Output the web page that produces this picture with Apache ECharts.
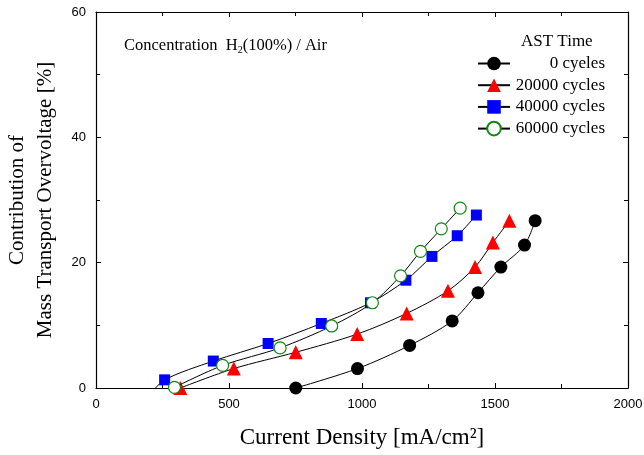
<!DOCTYPE html>
<html>
<head>
<meta charset="utf-8">
<script src="https://cdn.jsdelivr.net/npm/echarts@6/dist/echarts.min.js"></script>
<style>html,body{margin:0;padding:0;background:#fff}#c{width:644px;height:455px}</style>
</head>
<body>
<div id="c"></div>
<script>
// ---- data ----
const seriesNames = ['0 cyeles', '20000 cycles', '40000 cycles', '60000 cycles'];
const x0 = [751, 983, 1179, 1339, 1436, 1522, 1611, 1651];
const y0 = [0.0, 3.1, 6.8, 10.7, 15.2, 19.3, 22.8, 26.7];
const x20k = [317, 518, 751, 982, 1168, 1323, 1425, 1492, 1554];
const y20k = [0.0, 3.1, 5.7, 8.6, 11.9, 15.5, 19.3, 23.2, 26.7];
const x40k = [200, 258, 441, 647, 847, 1032, 1165, 1263, 1358, 1430];
const y40k = [-1.2, 1.3, 4.3, 7.1, 10.3, 13.6, 17.2, 21.0, 24.3, 27.6];
const x60k = [295, 476, 692, 886, 1039, 1145, 1220, 1298, 1369];
const y60k = [0.1, 3.6, 6.4, 9.9, 13.6, 17.9, 21.8, 25.4, 28.7];
const xTicks = [0, 500, 1000, 1500, 2000];
const yTicks = [0, 20, 40, 60];

const pairs = (xs, ys) => xs.map((x, i) => [x, ys[i]]);
const serif = '"Liberation Serif", "Times New Roman", serif';
const sans = '"Liberation Sans", Arial, sans-serif';

const styles = [
  {symbol: 'circle', symbolSize: 13, color: '#000', border: '#000', bw: 0},
  {symbol: 'triangle', symbolSize: 14, color: '#ff0000', border: '#ff0000', bw: 0},
  {symbol: 'rect', symbolSize: 11, color: '#0000ff', border: '#0000ff', bw: 0},
  {symbol: 'circle', symbolSize: 12, color: '#ffffff', border: '#118811', bw: 1.2}
];
const datasets = [pairs(x0, y0), pairs(x20k, y20k), pairs(x40k, y40k), pairs(x60k, y60k)];

const series = datasets.map((d, i) => ({
  name: seriesNames[i],
  type: 'line',
  data: d,
  smooth: 0.3,
  clip: true,
  symbol: styles[i].symbol,
  symbolSize: styles[i].symbolSize,
  showAllSymbol: true,
  lineStyle: {color: '#000', width: 1},
  itemStyle: {color: styles[i].color, borderColor: styles[i].border, borderWidth: styles[i].bw, opacity: 1},
  emphasis: {disabled: true},
  z: 2 + i
}));

const chart = echarts.init(document.getElementById('c'), null, {renderer: 'canvas'});
const axisCommon = {
  axisLine: {show: true, onZero: false, lineStyle: {color: '#000', width: 1.2}},
  axisTick: {show: true, inside: true, length: 5, lineStyle: {color: '#000', width: 1}},
  minorTick: {show: true, splitNumber: 2, length: 4, lineStyle: {color: '#000', width: 1}},
  splitLine: {show: false}
};
const plainNum = v => String(v);
chart.setOption({
  animation: false,
  backgroundColor: '#fff',
  title: [
    {
      text: 'Concentration  H{sub|2}(100%) / Air',
      left: 119, top: 31,
      textStyle: {
        fontFamily: serif, fontSize: 16.5, fontWeight: 'normal', color: '#000',
        rich: {sub: {fontFamily: serif, fontSize: 10, color: '#000', padding: [9, 0, 0, 0]}}
      }
    },
    {
      text: 'AST Time', left: 516, top: 28,
      textStyle: {fontFamily: serif, fontSize: 17, fontWeight: 'normal', color: '#000'}
    }
  ],
  legend: {
    orient: 'vertical',
    left: 472, top: 50,
    itemWidth: 32, itemHeight: 17, itemGap: 4.7,
    data: seriesNames,
    selectedMode: false,
    formatter: n => '{t|' + n + '}',
    textStyle: {
      fontFamily: serif, fontSize: 17, color: '#000',
      rich: {t: {fontFamily: serif, fontSize: 17, color: '#000', width: 90, align: 'right', lineHeight: 17}}
    }
  },
  grid: {left: 96, right: 16, top: 12, bottom: 67, containLabel: false, outerBoundsMode: 'none'},
  xAxis: [
    Object.assign({
      type: 'value', min: xTicks[0], max: xTicks[xTicks.length - 1], interval: 500,
      position: 'bottom',
      name: 'Current Density [mA/cm²]', nameLocation: 'middle', nameGap: 38,
      nameTextStyle: {fontFamily: serif, fontSize: 23, color: '#000'},
      axisLabel: {fontFamily: sans, fontSize: 13, color: '#000', margin: 10, formatter: plainNum}
    }, axisCommon),
    Object.assign({
      type: 'value', min: xTicks[0], max: xTicks[xTicks.length - 1], interval: 500,
      position: 'top', axisLabel: {show: false}
    }, axisCommon)
  ],
  yAxis: [
    Object.assign({
      type: 'value', min: yTicks[0], max: yTicks[yTicks.length - 1], interval: 20,
      position: 'left',
      name: 'Contribution of\nMass Transport Overvoltage [%]', nameLocation: 'middle', nameGap: 37,
      nameRotate: 90,
      nameTextStyle: {fontFamily: serif, fontSize: 21, color: '#000', lineHeight: 28},
      axisLabel: {fontFamily: sans, fontSize: 13, color: '#000', margin: 10, formatter: plainNum}
    }, axisCommon),
    Object.assign({
      type: 'value', min: yTicks[0], max: yTicks[yTicks.length - 1], interval: 20,
      position: 'right', axisLabel: {show: false}
    }, axisCommon)
  ],
  series: series
});
</script>
</body>
</html>
